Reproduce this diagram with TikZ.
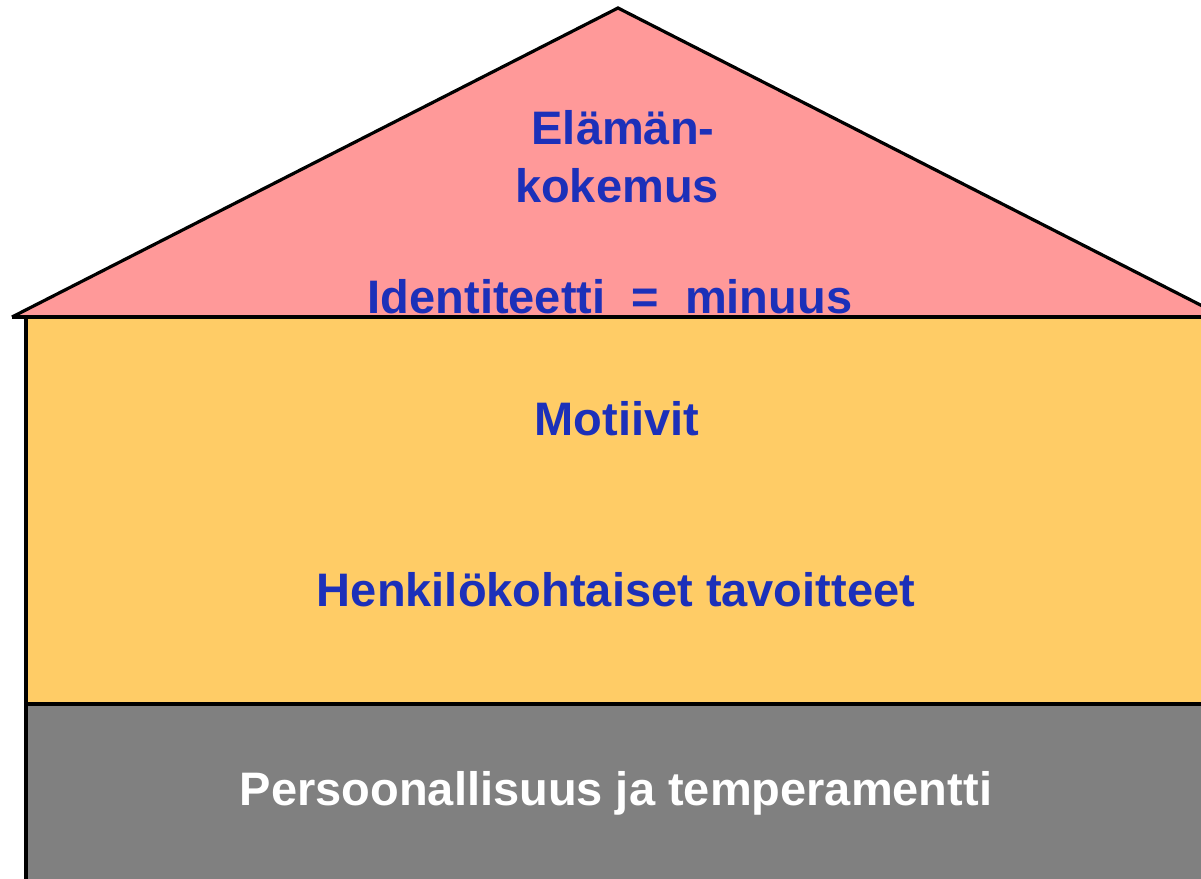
\documentclass[tikz,border=0pt]{standalone}
\usepackage{fontspec}
\setmainfont{Liberation Sans}
\definecolor{roofpink}{RGB}{255,153,153}
\definecolor{wallorange}{RGB}{255,204,102}
\definecolor{basegray}{RGB}{128,128,128}
\definecolor{txtblue}{RGB}{28,48,185}
\begin{document}
\begin{tikzpicture}[x=1pt,y=-1pt,
  outline/.style={draw=black,line width=3.2pt,line join=miter},
  lbl/.style={anchor=base,inner sep=0pt,font=\fontsize{47}{50}\selectfont\bfseries,text=txtblue},
  lblw/.style={lbl,text=white}]
\useasboundingbox (0,0) rectangle (1201,878);
\begin{scope}
\clip (0,0) rectangle (1201,878);
% roof
\coordinate (rl) at (12,317);
\coordinate (ra) at (618,8);
\coordinate (rr) at (1224,317);
\fill[roofpink] (rl) -- (ra) -- (rr) -- cycle;
% wall
\fill[wallorange] (26,317) rectangle (1230,704);
% base
\fill[basegray] (26,704) rectangle (1230,890);
\draw[outline] (rl) -- (ra) -- (rr);
\draw[outline] (rl) -- (1230,317);
\draw[outline] (26,317) -- (26,890);
\draw[outline] (26,704) -- (1230,704);
\end{scope}
\node[lbl] (t1) at (623,144) {Elämän-};
\node[lbl] (t2) at (617,202) {kokemus};
\node[lbl] (t3) at (610,313) {Identiteetti \ = \ minuus};
\node[lbl] (t4) at (617,435) {Motiivit};
\node[lbl] (t5) at (616,606) {Henkilökohtaiset tavoitteet};
\node[lblw] (t6) at (616,805) {Persoonallisuus ja temperamentti};
\end{tikzpicture}
\end{document}
